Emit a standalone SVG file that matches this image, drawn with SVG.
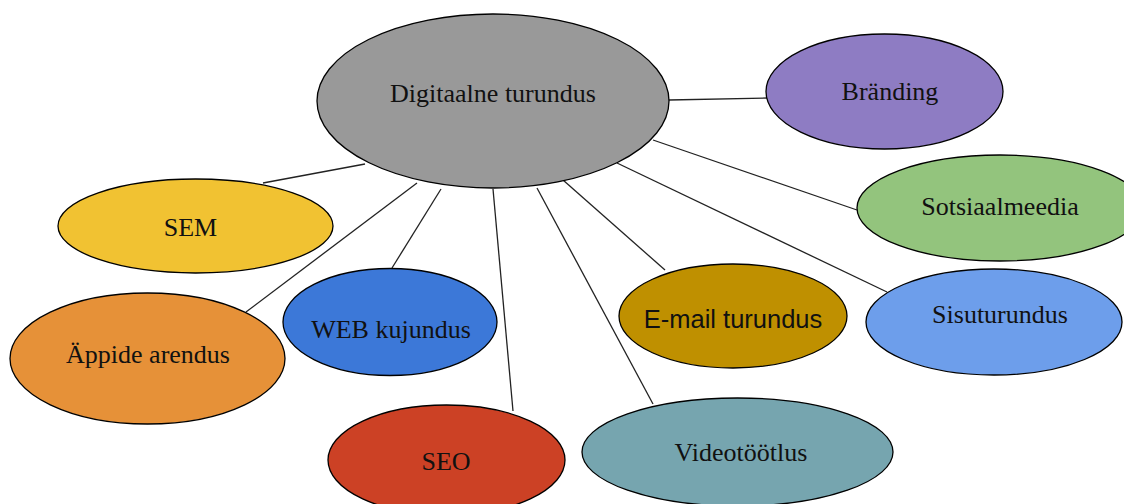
<svg xmlns="http://www.w3.org/2000/svg" width="1124" height="504" viewBox="0 0 1124 504">
  <style>
    .node ellipse { stroke: #000; stroke-width: 1.3; }
    .node text { font-family: "Liberation Serif", "Times New Roman", serif; font-size: 26px; fill: #111; text-anchor: middle; }
    .node text.sans { font-family: "Liberation Sans", Arial, sans-serif; font-size: 25.5px; }
    .links line { stroke: #222; stroke-width: 1.3; }
  </style>
  <rect width="1124" height="504" fill="#fff"/>

  <!-- spokes from the hub to each topic -->
  <g class="links" id="connectors">
    <line x1="669" y1="100" x2="767" y2="98"/>
    <line x1="653" y1="140" x2="857" y2="210"/>
    <line x1="617" y1="163" x2="887" y2="292"/>
    <line x1="563" y1="180" x2="665" y2="270"/>
    <line x1="537" y1="188" x2="653" y2="404"/>
    <line x1="493" y1="189" x2="513" y2="411"/>
    <line x1="441" y1="189" x2="392" y2="268"/>
    <line x1="417" y1="183" x2="246" y2="312"/>
    <line x1="365" y1="164" x2="263" y2="183"/>
  </g>

  <g class="node" id="digitaalne-turundus">
    <ellipse cx="493" cy="101" rx="176" ry="87" fill="#999999"/>
    <text x="493" y="102">Digitaalne turundus</text>
  </g>

  <g class="node" id="branding">
    <ellipse cx="884.5" cy="91.5" rx="118.5" ry="57.5" fill="#8e7cc3"/>
    <text x="890" y="100">Bränding</text>
  </g>

  <g class="node" id="sotsiaalmeedia">
    <ellipse cx="1000" cy="208" rx="143" ry="53" fill="#93c47d"/>
    <text x="1000" y="215">Sotsiaalmeedia</text>
  </g>

  <g class="node" id="sisuturundus">
    <ellipse cx="994" cy="322" rx="128" ry="53" fill="#6d9eeb"/>
    <text x="1000" y="323">Sisuturundus</text>
  </g>

  <g class="node" id="email-turundus">
    <ellipse cx="733" cy="316" rx="114" ry="52" fill="#bf9000"/>
    <text class="sans" x="733" y="328">E-mail turundus</text>
  </g>

  <g class="node" id="videotootlus">
    <ellipse cx="737.5" cy="452" rx="155.5" ry="54" fill="#76a5af"/>
    <text x="741" y="461">Videotöötlus</text>
  </g>

  <g class="node" id="seo">
    <ellipse cx="446.5" cy="460" rx="118.5" ry="55" fill="#cc4125"/>
    <text x="446" y="470">SEO</text>
  </g>

  <g class="node" id="web-kujundus">
    <ellipse cx="390" cy="322" rx="107" ry="53.5" fill="#3c78d8"/>
    <text x="391" y="338">WEB kujundus</text>
  </g>

  <g class="node" id="appide-arendus">
    <ellipse cx="147.5" cy="358.5" rx="137.5" ry="65.5" fill="#e69138"/>
    <text x="148" y="363">Äppide arendus</text>
  </g>

  <g class="node" id="sem">
    <ellipse cx="195.5" cy="226" rx="137.5" ry="47" fill="#f1c232"/>
    <text x="190.5" y="236">SEM</text>
  </g>
</svg>
